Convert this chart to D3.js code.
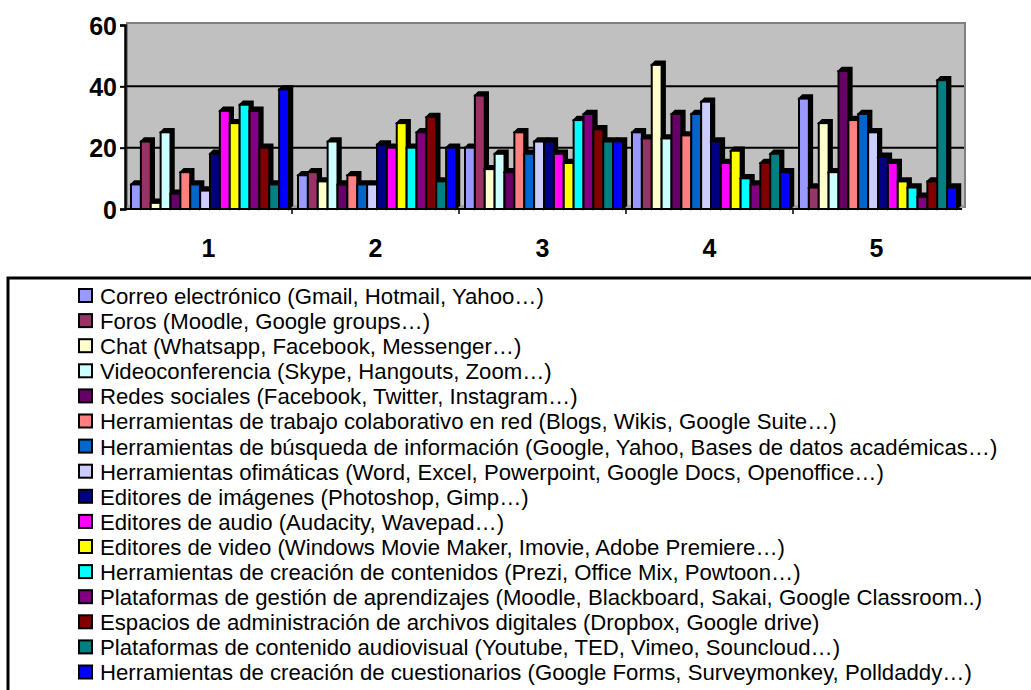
<!DOCTYPE html>
<html><head><meta charset="utf-8">
<script src="https://cdn.jsdelivr.net/npm/d3@7"></script>
<style>body{margin:0;background:#fff;}svg{display:block;}</style>
</head><body>
<script>
const categories = ["1","2","3","4","5"];
const seriesNames = [
 "Correo electrónico (Gmail, Hotmail, Yahoo…)",
 "Foros (Moodle, Google groups…)",
 "Chat (Whatsapp, Facebook, Messenger…)",
 "Videoconferencia (Skype, Hangouts, Zoom…)",
 "Redes sociales (Facebook, Twitter, Instagram…)",
 "Herramientas de trabajo colaborativo en red (Blogs, Wikis, Google Suite…)",
 "Herramientas de búsqueda de información (Google, Yahoo, Bases de datos académicas…)",
 "Herramientas ofimáticas (Word, Excel, Powerpoint, Google Docs, Openoffice…)",
 "Editores de imágenes (Photoshop, Gimp…)",
 "Editores de audio (Audacity, Wavepad…)",
 "Editores de video (Windows Movie Maker, Imovie, Adobe Premiere…)",
 "Herramientas de creación de contenidos (Prezi, Office Mix, Powtoon…)",
 "Plataformas de gestión de aprendizajes (Moodle, Blackboard, Sakai, Google Classroom..)",
 "Espacios de administración de archivos digitales (Dropbox, Google drive)",
 "Plataformas de contenido audiovisual (Youtube, TED, Vimeo, Souncloud…)",
 "Herramientas de creación de cuestionarios (Google Forms, Surveymonkey, Polldaddy…)"
];
const seriesColors = ["#9999FF","#993366","#FFFFCC","#CCFFFF","#660066","#FF8080","#0066CC","#CCCCFF",
 "#000080","#FF00FF","#FFFF00","#00FFFF","#800080","#800000","#008080","#0000FF"];
// values[series][category]
const correo        = [8, 11, 20, 25, 36];
const foros         = [22, 12, 37, 23, 7];
const chat          = [2, 9, 13, 47, 28];
const videoconf     = [25, 22, 18, 23, 12];
const redes         = [5, 8, 12, 31, 45];
const colaborativo  = [12, 11, 25, 24, 29];
const busqueda      = [8, 8, 18, 31, 31];
const ofimaticas    = [6, 8, 22, 35, 25];
const imagenes      = [18, 21, 22, 22, 17];
const audio         = [32, 20, 18, 15, 15];
const video         = [28, 28, 15, 19, 9];
const contenidos    = [34, 20, 29, 10, 7];
const gestion       = [32, 25, 31, 8, 4];
const archivos      = [20, 30, 26, 15, 9];
const audiovisual   = [8, 9, 22, 18, 42];
const cuestionarios = [39, 20, 22, 12, 7];
const seriesValues = [correo, foros, chat, videoconf, redes, colaborativo, busqueda, ofimaticas,
 imagenes, audio, video, contenidos, gestion, archivos, audiovisual, cuestionarios];
const yTicks = [0, 20, 40, 60];

const W = 1031, H = 690;
const svg = d3.select("body").append("svg").attr("width", W).attr("height", H);

const x0 = d3.scaleBand().domain(categories).range([125, 960]).padding(0);
const x1 = d3.scaleBand().domain(d3.range(seriesNames.length)).range([6, 164]).padding(0);
const y = d3.scaleLinear().domain([0, 60]).range([209, 25]);
const dx = 3.5, dy = -3.5;

svg.append("rect").attr("x", 127).attr("y", 23).attr("width", 838).attr("height", 184)
  .attr("fill", "#C0C0C0").attr("stroke", "#808080").attr("stroke-width", 2);
svg.append("path").attr("d", `M125,209 L128,205 L965,205 L962,209 Z`).attr("fill", "#A0A0A0");

svg.append("g").selectAll("line").data(yTicks.filter(t => t > 0 && t < 60)).join("line")
  .attr("x1", 127).attr("x2", 964).attr("y1", d => y(d)).attr("y2", d => y(d))
  .attr("stroke", "#000").attr("stroke-width", 2);

const bars = svg.append("g");
categories.forEach((c, ci) => {
  seriesValues.forEach((vals, si) => {
    const v = vals[ci];
    const bx = x0(c) + x1(si), bw = x1.bandwidth(), by = y(v), bb = y(0);
    bars.append("path")
      .attr("d", `M${bx},${by} L${bx+dx},${by+dy} L${bx+bw+dx},${by+dy} L${bx+bw+dx},${bb+dy} L${bx+bw},${bb} L${bx+bw},${by} Z`)
      .attr("fill", "#000").attr("stroke", "#000").attr("stroke-width", 1.5);
    bars.append("rect").attr("x", bx).attr("y", by).attr("width", bw).attr("height", bb - by)
      .attr("fill", seriesColors[si]).attr("stroke", "#000").attr("stroke-width", 2);
  });
});

const yAxis = d3.axisLeft(y).tickValues(yTicks).tickSize(5).tickPadding(3);
const ya = svg.append("g").attr("transform", "translate(125,0)").call(yAxis);
ya.select(".domain").attr("stroke", "#000").attr("stroke-width", 2.5);
ya.selectAll(".tick line").attr("stroke", "#000").attr("stroke-width", 2);
ya.selectAll(".tick text").attr("font-family", "Liberation Sans, Arial, sans-serif")
  .attr("font-weight", "bold").attr("font-size", 25).attr("fill", "#000").attr("dy", "0.36em");
svg.append("line").attr("x1", 125).attr("x2", 962).attr("y1", 209).attr("y2", 209)
  .attr("stroke", "#000").attr("stroke-width", 2);
const xAxis = d3.axisBottom(x0).tickSize(0).tickPadding(0);
const xa = svg.append("g").attr("transform", "translate(0,209)").call(xAxis);
xa.select(".domain").remove();
xa.selectAll(".tick text").attr("font-family", "Liberation Sans, Arial, sans-serif")
  .attr("font-weight", "bold").attr("font-size", 25).attr("fill", "#000").attr("y", 48).attr("dy", 0);
svg.append("g").selectAll("line").data(categories.slice(1)).join("line")
  .attr("x1", d => x0(d)).attr("x2", d => x0(d)).attr("y1", 209).attr("y2", 214)
  .attr("stroke", "#000").attr("stroke-width", 1.5);

svg.append("rect").attr("x", 8).attr("y", 278).attr("width", 1040).attr("height", 440)
  .attr("fill", "#fff").attr("stroke", "#000").attr("stroke-width", 3);
const lg = svg.append("g");
const rowY = i => 304 + i * 25.1;
seriesNames.forEach((n, i) => {
  lg.append("rect").attr("x", 79).attr("y", rowY(i) - 15).attr("width", 13).attr("height", 13)
    .attr("fill", seriesColors[i]).attr("stroke", "#000").attr("stroke-width", 2);
});
const tg = lg.append("g");
const texts = tg.selectAll("text").data(seriesNames).join("text")
  .attr("x", 0).attr("y", (d, i) => rowY(i))
  .attr("font-family", "Liberation Sans, Arial, sans-serif").attr("font-size", 21.5).attr("fill", "#000")
  .text(d => d);
let maxW = 0;
texts.each(function(){ maxW = Math.max(maxW, this.getComputedTextLength()); });
const sx = 898 / maxW;
tg.attr("transform", `translate(100,0) scale(${sx},1)`);
</script>
</body></html>
